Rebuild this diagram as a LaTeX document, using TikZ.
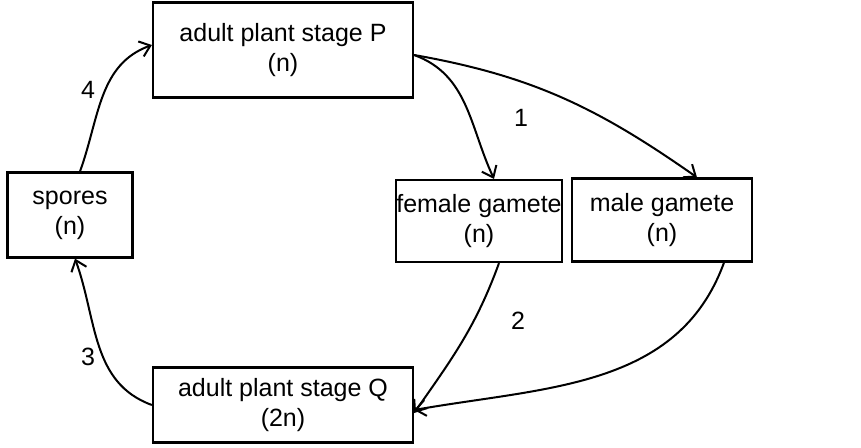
\documentclass[tikz,border=0pt]{standalone}
\usepackage{fontspec}
\setmainfont{Liberation Sans}
\usetikzlibrary{positioning, arrows.meta}

\begin{document}
\begin{tikzpicture}[x=1pt, y=-1pt,
  stagebox/.style={draw, line width=2.2pt, align=center, font=\fontsize{25}{30}\selectfont, inner sep=0pt},
  cycle/.style={-{Straight Barb[length=10pt,width=16pt]}, line width=2pt},
  numlabel/.style={font=\fontsize{25}{30}\selectfont}]
\useasboundingbox (0,0) rectangle (861,447);
\node[stagebox, minimum width=260pt, minimum height=95pt] (P) at (283,50) {adult plant stage P\\(n)};
\node[stagebox, minimum width=125pt, minimum height=85pt] (spores) at (70,215) {spores\\(n)};
\node[stagebox, minimum width=148pt, minimum height=82pt] (female) at (479,221) {female gamete\\(n)};
\node[stagebox, minimum width=180pt, minimum height=83pt] (male) at (662,220) {male gamete\\(n)};
\node[stagebox, minimum width=260pt, minimum height=75pt] (Q) at (283,405) {adult plant stage Q\\(2n)};
%% connectors
\draw[cycle] (P.east) ++(0,5) to[out=-20, in=115] ([xshift=15pt]female.north);
\draw[cycle] (P.east) ++(0,5) to[out=-10, in=145] ([xshift=35pt]male.north);
\draw[cycle] ([xshift=20pt]female.south) to[out=-110, in=55] ([yshift=-8pt]Q.east);
\draw[cycle] ([xshift=62pt]male.south) to[out=-110, in=10] ([yshift=-5pt]Q.east);
\draw[cycle] (Q.west) to[out=160, in=-70] ([xshift=5pt]spores.south);
\draw[cycle] ([xshift=10pt]spores.north) to[out=70, in=-160] ([yshift=5pt]P.west);
\node[numlabel] (n1) at (521,118) {1};
\node[numlabel] (n2) at (518,321) {2};
\node[numlabel] (n3) at (88,357) {3};
\node[numlabel] (n4) at (88,90) {4};
\end{tikzpicture}
\end{document}
